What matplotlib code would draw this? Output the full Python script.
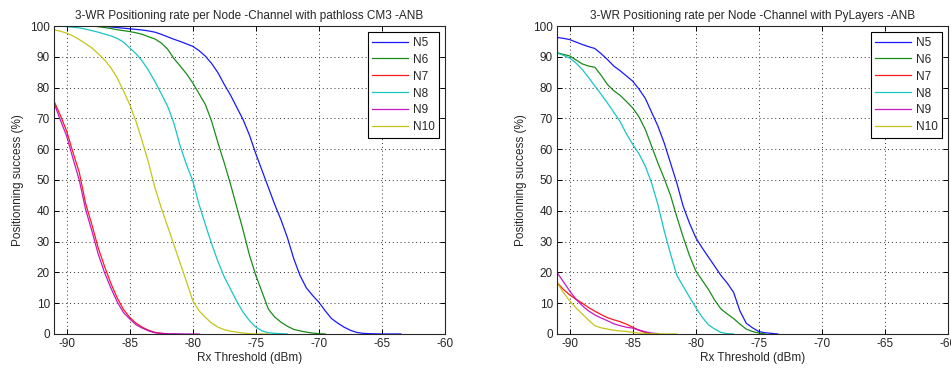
import numpy as np
import matplotlib
matplotlib.use("Agg")
import matplotlib.pyplot as plt

plt.rcParams['font.family'] = ['Liberation Sans', 'DejaVu Sans']
plt.rcParams['axes.unicode_minus'] = False

# Rx threshold grid: 0.5 dB steps starting at -91 dBm
X_START = -91.0
X_STEP = 0.5

labels = ["N5", "N6", "N7", "N8", "N9", "N10"]
colors = ["#0000ff", "#008000", "#ff0000", "#00bfbf", "#bf00bf", "#bfbf00"]

# Channel with pathloss CM3
cm3_n5 = [100, 100, 100, 100, 100, 100, 100, 100, 99.9, 99.7, 99.5, 99.3, 99.1, 98.9,
          98.7, 98.4, 98, 97.3, 96.5, 95.7, 95, 94.2, 93.4, 92, 90.2, 87.8, 84.8, 81,
          77.5, 73.5, 69.5, 64.5, 58.5, 53, 47.5, 42, 37, 31.3, 24.5, 19, 15, 12.5,
          10.3, 7.5, 5, 3.5, 2.2, 1.2, 0.5, 0.2, 0.1, 0.05, 0, 0, 0, 0]
cm3_n6 = [100, 100, 100, 100, 100, 100, 100, 99.8, 99.5, 99.2, 98.8, 98.5, 98.2, 97.8,
          97.3, 96.5, 95.8, 94.5, 92.5, 89.5, 87, 84.5, 81.5, 78, 74.5, 69, 62, 55.5,
          48.5, 41, 33.5, 25.5, 19, 13.5, 8, 5.5, 3.8, 2.5, 1.5, 1, 0.6, 0.3, 0.1, 0]
cm3_n7 = [75.6, 71, 65.9, 59, 52.5, 42.5, 35.5, 28, 22, 16.5, 11.8, 8, 5.4, 3.5, 2.2,
          1.2, 0.5, 0.2, 0]
cm3_n8 = [100, 100, 99.8, 99.6, 99.4, 99, 98.5, 98, 97.4, 96.8, 96, 94.8, 92.9, 91,
          88.6, 85.5, 82, 78, 74, 68.5, 61, 55, 49.7, 42, 35.5, 29.2, 23.5, 18.5, 14.5,
          10.5, 7, 4.3, 2.2, 1, 0.4, 0.2, 0.1, 0]
cm3_n9 = [75, 69.5, 64.3, 57, 50, 40.5, 33.5, 26, 20, 15, 10.5, 7, 4.9, 3, 1.9, 1, 0.4,
          0.2, 0.1, 0.1, 0.05, 0, 0, 0]
cm3_n10 = [98.8, 98.3, 97.7, 96.8, 95.6, 94.3, 92.9, 91, 89, 86.5, 83.2, 79, 74.5, 69,
           62.5, 55.5, 47.5, 41, 35, 29, 23, 17, 10.8, 7.5, 5.4, 3.5, 2.2, 1.4, 0.9,
           0.6, 0.3, 0.1, 0, 0, 0]

# Channel with PyLayers
pyl_n5 = [96.3, 96, 95.6, 94.8, 94, 93.3, 92.7, 91, 89.1, 87, 85.5, 83.8, 82.1, 79.5,
          76.5, 72, 67.5, 62, 55.5, 49, 41.5, 36, 31.3, 28, 25, 22, 19, 16.5, 13.5, 7.5,
          3.5, 2, 0.8, 0.4, 0.2, 0]
pyl_n6 = [91.3, 90.8, 90.3, 89, 87.7, 87, 86.6, 84, 81, 79, 77.5, 75.5, 73.4, 70.5,
          66.4, 61, 55.5, 50.5, 45, 38, 31.5, 25.5, 20.5, 17.5, 14.5, 11, 8.1, 6.5, 5,
          3.2, 1.6, 0.8, 0.3, 0]
pyl_n7 = [16.7, 14.5, 12.7, 11.3, 10, 8.6, 7.4, 6.3, 5.3, 4.6, 4, 3.2, 2.2, 1.2, 0.5, 0]
pyl_n8 = [91.3, 90.5, 89.6, 88, 85.9, 83.3, 80.5, 77.8, 75, 72, 69, 65, 61.6, 58.5,
          54.5, 49, 42, 33.5, 26, 19, 15.5, 12, 8.6, 5.5, 3, 1.6, 0.5, 0.1, 0]
pyl_n9 = [20, 17, 14, 11.3, 9.2, 7.5, 6.2, 5.2, 4.3, 3.3, 2.7, 2.2, 1.9, 1.3, 0.7, 0.3, 0.1]
pyl_n10 = [16.7, 13.5, 10.8, 8.5, 6.5, 4.5, 2.7, 2, 1.6, 1.2, 1, 0.8, 0.5, 0.3, 0.2,
           0.1, 0.1, 0, 0, 0]

panels = [
    ("3-WR Positioning rate per Node -Channel with pathloss CM3 -ANB",
     [cm3_n5, cm3_n6, cm3_n7, cm3_n8, cm3_n9, cm3_n10]),
    ("3-WR Positioning rate per Node -Channel with PyLayers -ANB",
     [pyl_n5, pyl_n6, pyl_n7, pyl_n8, pyl_n9, pyl_n10]),
]

x_ticks = [-90, -85, -80, -75, -70, -65, -60]
y_ticks = [0, 10, 20, 30, 40, 50, 60, 70, 80, 90, 100]

text_color = "#262626"

fig = plt.figure(figsize=(9.51, 3.69), dpi=100)
fig.patch.set_facecolor("white")
positions = [[0.0568, 0.0949, 0.4112, 0.8346], [0.5857, 0.0949, 0.4112, 0.8346]]

for pos, (title, series) in zip(positions, panels):
    ax = fig.add_axes(pos)
    for y, lab, col in zip(series, labels, colors):
        x = X_START + X_STEP * np.arange(len(y))
        ax.plot(x, y, color=col, lw=0.9, alpha=0.9, label=lab)
    ax.set_xlim(-91, -60)
    ax.set_ylim(0, 100)
    ax.set_xticks(x_ticks)
    ax.set_yticks(y_ticks)
    ax.grid(True, linestyle=(0, (1, 3)), color="#303030", lw=0.7)
    ax.tick_params(direction="in", top=True, right=True, length=3.5, width=0.7,
                   labelsize=8.5, pad=3, labelcolor=text_color)
    for s in ax.spines.values():
        s.set_linewidth(0.8)
        s.set_color("#262626")
    ax.set_title(title, fontsize=8.5, pad=5, color=text_color)
    ax.set_xlabel("Rx Threshold (dBm)", fontsize=8.5, labelpad=1, color=text_color)
    ax.set_ylabel("Positionning success (%)", fontsize=8.5, labelpad=4, color=text_color)
    leg = ax.legend(loc="upper right", fontsize=8.5, fancybox=False, framealpha=1,
                    edgecolor="black", handlelength=3.0, handletextpad=0.4,
                    labelspacing=0.42, borderaxespad=0.5, borderpad=0.4)
    leg.get_frame().set_linewidth(0.8)
    for t in leg.get_texts():
        t.set_color(text_color)

fig.savefig("out.png", dpi=100, facecolor="white")
